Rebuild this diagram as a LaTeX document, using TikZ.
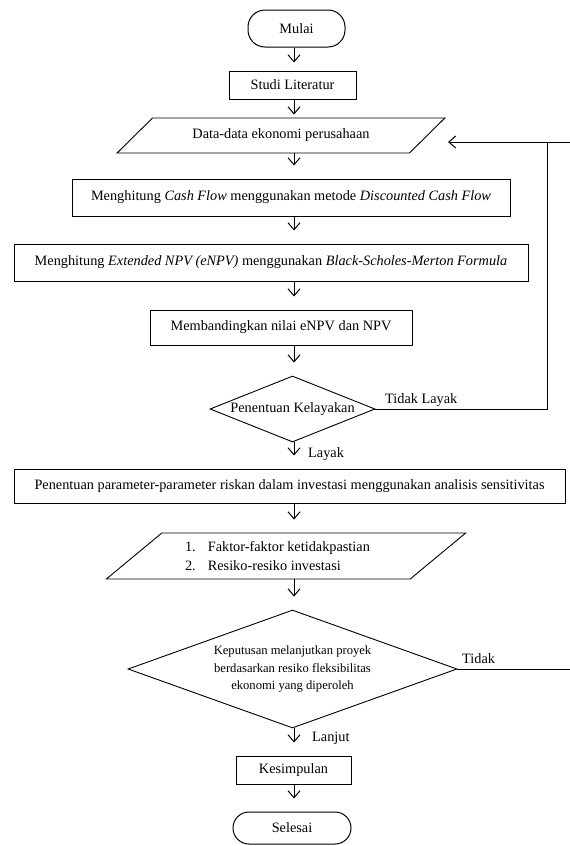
\documentclass[tikz,border=0pt]{standalone}
\usepackage{fontspec}
\setmainfont{Liberation Serif}
\usetikzlibrary{shapes.geometric,arrows.meta}
\tikzset{
  proses/.style={draw, line width=1pt, inner sep=0pt},
  terminal/.style={draw, line width=1pt, inner sep=0pt, rounded corners=17pt},
  keputusan/.style={draw, diamond, line width=0.9pt, inner sep=0pt},
  datain/.style={draw, trapezium, trapezium stretches=true, line width=0.9pt, inner sep=0pt},
  panah/.style={-{Straight Barb[length=7pt,width=12pt]}, line width=1pt, shorten >=13pt},
  ket/.style={inner sep=0pt, anchor=base west}
}
\begin{document}
\begin{tikzpicture}[x=1pt,y=-1pt,font=\fontsize{14.3}{17}\selectfont]
\useasboundingbox (0,0) rectangle (570,846);
\coordinate (spine) at (294,0);
\node[terminal, minimum width=97pt, minimum height=37pt] (mulai) at (296.5,28.5) {Mulai};
\node[proses, minimum width=127pt, minimum height=28pt] (studi) at (292.5,85) {Studi Literatur};
\node[datain, trapezium left angle=28, trapezium right angle=152, minimum width=328pt, minimum height=35pt] (data) at (281,135.5) {Data-data ekonomi perusahaan};
\node[proses, minimum width=438pt, minimum height=37pt] (cash) at (291,197.5) {Menghitung \textit{Cash Flow} menggunakan metode \textit{Discounted Cash Flow}};
\node[proses, minimum width=514pt, minimum height=37pt] (enpv) at (271,262.5) {Menghitung \textit{Extended NPV (eNPV)} menggunakan \textit{Black-Scholes-Merton Formula}};
\node[proses, minimum width=262pt, minimum height=35pt] (banding) at (281,327.5) {Membandingkan nilai eNPV dan NPV};
\node[keputusan, aspect=2.5, minimum width=165pt, minimum height=66pt] (layak) at (292.5,409) {Penentuan Kelayakan};
\node[proses, minimum width=551pt, minimum height=34pt] (param) at (289.5,486) {Penentuan parameter-parameter riskan dalam investasi menggunakan analisis sensitivitas};
\node[datain, trapezium left angle=33, trapezium right angle=147, minimum width=360pt, minimum height=46pt, align=left, font=\fontsize{14.3}{19}\selectfont] (faktor) at (286,556) {1.\hspace{12pt}Faktor-faktor ketidakpastian\hspace*{17pt}\\2.\hspace{12pt}Resiko-resiko investasi};
\node[keputusan, aspect=2.8, minimum width=329pt, minimum height=118pt, align=center, font=\fontsize{12.6}{17.5}\selectfont] (lanjut) at (292.5,669) {Keputusan melanjutkan proyek\\berdasarkan resiko fleksibilitas\\ekonomi yang diperoleh};
\node[proses, minimum width=115pt, minimum height=28pt] (simpul) at (293.5,770) {Kesimpulan};
\node[terminal, rounded corners=16pt, minimum width=118pt, minimum height=32pt] (selesai) at (292,828) {Selesai};
\draw[panah, shorten >=8pt] (mulai.south -| spine) -- (studi.north -| spine);
\draw[panah, shorten >=3pt] (studi.south -| spine) -- (data.north -| spine);
\draw[panah] (data.south -| spine) -- (cash.north -| spine);
\draw[panah] (cash.south -| spine) -- (enpv.north -| spine);
\draw[panah] (enpv.south -| spine) -- (banding.north -| spine);
\draw[panah] (banding.south -| spine) -- (layak.north -| spine);
\draw[panah] (layak.south -| spine) -- (param.north -| spine);
\draw[panah] (param.south -| spine) -- (faktor.north -| spine);
\draw[panah] (faktor.south -| spine) -- (lanjut.north -| spine);
\draw[panah] (lanjut.south -| spine) -- (simpul.north -| spine);
\draw[panah] (simpul.south -| spine) -- (selesai.north -| spine);
\coordinate (pojok) at (547,142);
\coordinate (tepi) at (570,142);
\coordinate (ujung) at (448,142);
\draw[line width=1pt] (layak.east) -| (pojok);
\draw[panah, shorten >=0pt] (tepi) -- (ujung);
\draw[line width=1pt] (lanjut.east) -- (lanjut.east -| tepi);
\node[ket] (tdklayak) at (385,403) {Tidak Layak};
\node[ket] (lyk) at (308,457) {Layak};
\node[ket] (tdk) at (462,663) {Tidak};
\node[ket] (lnjt) at (312,741) {Lanjut};
\end{tikzpicture}
\end{document}
